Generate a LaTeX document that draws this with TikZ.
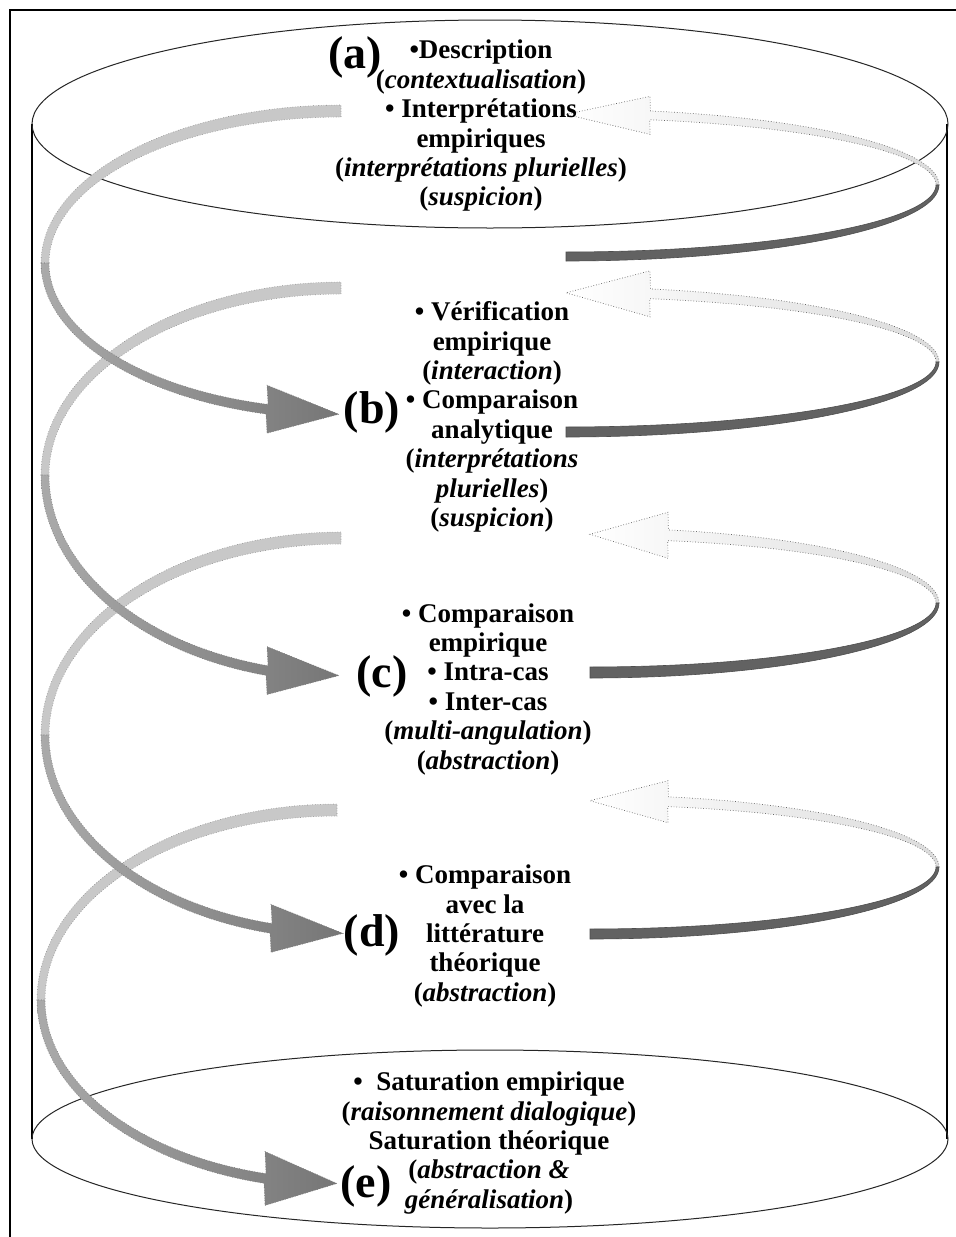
\documentclass[tikz,border=0pt]{standalone}
\usepackage{fontspec}
\setmainfont{Liberation Serif}
\definecolor{backgray}{RGB}{200,200,200}
\definecolor{frontL}{RGB}{170,170,170}
\definecolor{frontR}{RGB}{118,118,118}
\definecolor{darkrib}{RGB}{98,98,98}
\begin{document}
\begin{tikzpicture}[x=0.5pt,y=-0.5pt,
  frame/.style={line width=1pt,black},
  cyl/.style={line width=1pt,black},
  rim/.style={line width=0.5pt,black!85},
  backband/.style={fill=backgray,draw=black!45,line width=0.3pt,densely dotted},
  frontband/.style={left color=frontL,right color=frontR,draw=black!55,line width=0.3pt,densely dotted},
  whiteband/.style={left color=white,right color=black!14,draw=black!60,line width=0.35pt,densely dotted},
  darkband/.style={fill=darkrib,draw=darkrib!80!black,line width=0.3pt},
  txt/.style={align=center,inner sep=0pt,font=\fontsize{13.5}{14.7}\selectfont\bfseries},
  lab/.style={inner sep=0pt,font=\fontsize{23}{23}\selectfont\bfseries}]
\useasboundingbox (0,0) rectangle (956,1237);
\fill[white] (0,0) rectangle (956,1237);
% frame
\draw[frame] (10,1237) -- (10,10) -- (956,10);
% cylinder
\draw[cyl] (32,124) -- (32,1139);
\draw[cyl] (947,124) -- (947,1139);
\draw[rim] (490,124) ellipse [x radius=458, y radius=104];
\draw[rim] (490,1139) ellipse [x radius=458, y radius=89];
% back bands, left (light)
\foreach \cx/\cy/\rt in {341/263/152, 341/475/187, 341/735/197, 337/1000/190}{
  \filldraw[backband] plot[domain=180:270,samples=50] ({\cx+300*cos(\x)},{\cy+(\rt+6)*sin(\x)})
    -- plot[domain=270:180,samples=50] ({\cx+292*cos(\x)},{\cy+(\rt-6)*sin(\x)}) -- cycle;
}
% back bands, right (white, with arrow head)
\foreach \cx/\cy/\R/\ro/\ri/\bx/\hh in {566/185/371/76/67/650/19, 566/362/371/75/65/650/23, 590/603/347/75/64/668/23, 590/867/347/72/62/668/21}{
  \pgfmathsetmacro\ta{-acos((\bx-\cx)/\R)}
  \pgfmathsetmacro\yb{\cy+0.5*(\ro+\ri)*sin(\ta)}
  \pgfmathsetmacro\ya{\yb-\hh}
  \pgfmathsetmacro\yc{\yb+\hh}
  \pgfmathsetmacro\tipy{\yb-1}
  \shadedraw[whiteband] plot[domain=0:\ta,samples=50] ({\cx+(\R+2)*cos(\x)},{\cy+\ro*sin(\x)})
    -- (\bx,\ya) -- (\cx,\tipy) -- (\bx,\yc)
    -- plot[domain=\ta:0,samples=50] ({\cx+(\R-1)*cos(\x)},{\cy+\ri*sin(\x)}) -- cycle;
}
% front bands, right (dark)
\foreach \cx/\cy/\R/\ro/\ri in {566/185/371/76/67, 566/362/371/75/65, 590/603/347/75/64, 590/867/347/72/62}{
  \filldraw[darkband] plot[domain=0:90,samples=50] ({\cx+(\R+2)*cos(\x)},{\cy+\ro*sin(\x)})
    -- plot[domain=90:0,samples=50] ({\cx+(\R-1)*cos(\x)},{\cy+\ri*sin(\x)}) -- cycle;
}
% front bands, left (with arrow head)
\foreach \cx/\cy/\rb/\bx/\hh in {341/263/151/267/24, 341/475/202/267/24, 341/735/199/271/24, 337/1000/184/265/27}{
  \pgfmathsetmacro\tb{acos((\bx-\cx)/296)}
  \pgfmathsetmacro\yb{\cy+\rb*sin(\tb)}
  \pgfmathsetmacro\ya{\yb-\hh}
  \pgfmathsetmacro\yc{\yb+\hh}
  \pgfmathsetmacro\tipx{\bx+72}
  \pgfmathsetmacro\tipy{\yb+5}
  \shadedraw[frontband] plot[domain=180:\tb,samples=50] ({\cx+300*cos(\x)},{\cy+(\rb+5)*sin(\x)})
    -- (\bx,\yc) -- (\tipx,\tipy) -- (\bx,\ya)
    -- plot[domain=\tb:180,samples=50] ({\cx+292*cos(\x)},{\cy+(\rb-5)*sin(\x)}) -- cycle;
}
% texts
\node[lab] (la) at (355,57) {(a)};
\node[txt] (ta) at (481,126) {•Description\\(\textit{contextualisation})\\• Interprétations\\empiriques\\(\textit{interprétations plurielles})\\(\textit{suspicion})};
\node[lab] (lb) at (372,412) {(b)};
\node[txt] (tb) at (492,417) {• Vérification\\empirique\\(\textit{interaction})\\• Comparaison\\analytique\\(\textit{interprétations}\\\textit{plurielles})\\(\textit{suspicion})};
\node[lab] (lc) at (382,676) {(c)};
\node[txt] (tc) at (488,689) {• Comparaison\\empirique\\• Intra-cas\\• Inter-cas\\(\textit{multi-angulation})\\(\textit{abstraction})};
\node[lab] (ld) at (372,935) {(d)};
\node[txt] (td) at (485,936) {• Comparaison\\avec la\\littérature\\théorique\\(\textit{abstraction})};
\node[lab] (le) at (366,1186) {(e)};
\node[txt] (te) at (489,1143) {•\ \ Saturation empirique\\(\textit{raisonnement dialogique})\\Saturation théorique\\(\textit{abstraction \&}\\\textit{généralisation})};
\end{tikzpicture}
\end{document}
